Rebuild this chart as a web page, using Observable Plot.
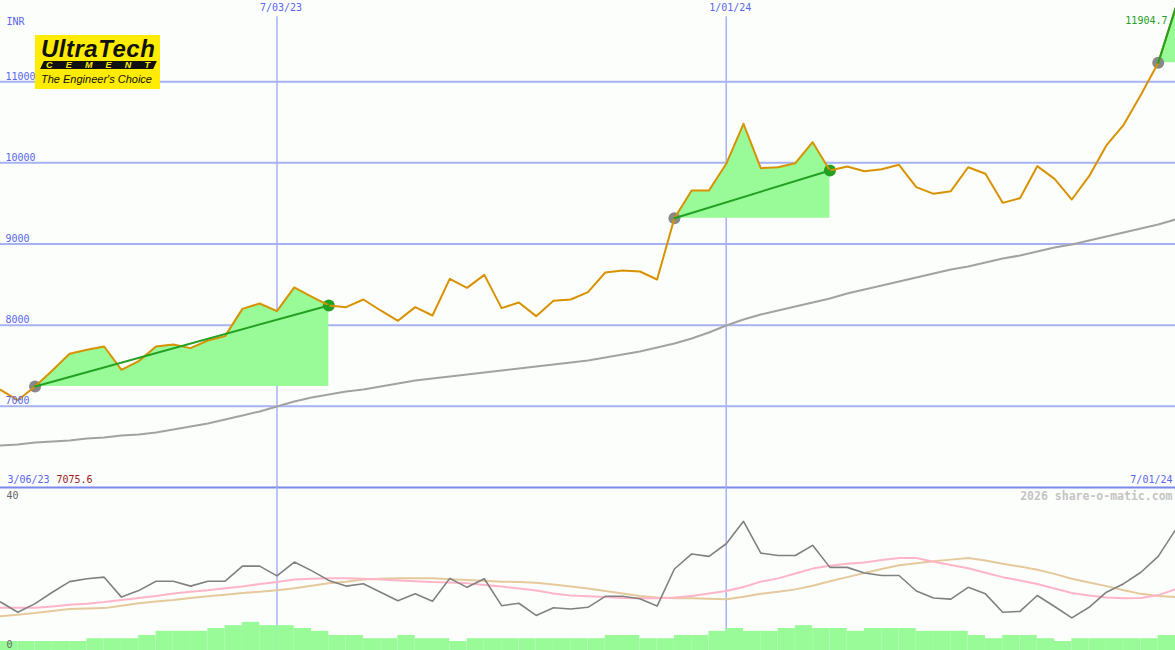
<!DOCTYPE html>
<html>
<head>
<meta charset="utf-8">
<script src="https://cdn.jsdelivr.net/npm/d3@7"></script>
<script src="https://cdn.jsdelivr.net/npm/@observablehq/plot@0.6"></script>
<style>
  html, body { margin: 0; padding: 0; background: #fcfefc; }
  #wrap { position: relative; width: 1175px; height: 650px; background: #fcfefc; overflow: hidden; }
  #upper, #lower { position: absolute; left: 0; }
  #upper { top: 0; }
  #lower { top: 487px; }
  #logo { position: absolute; left: 35px; top: 35px; width: 125px; height: 54px; background: #ffec00; overflow: hidden; }
  #logo .brand { position: absolute; left: 6px; top: 2px; font: italic 900 24px "Liberation Sans", Arial, sans-serif; letter-spacing: 0.5px; line-height: 1; color: #111; white-space: nowrap; }
  #logo .band { position: absolute; left: 7px; top: 26px; width: 113px; height: 8px; background: #111; transform: skewX(-25deg); }
  #logo .cement { position: absolute; left: 11px; top: 26px; width: 104px; height: 8px; display: flex; justify-content: space-between; font: italic 900 9px "Liberation Sans", Arial, sans-serif; line-height: 8px; color: #ffec00; }
  #logo .tag { position: absolute; left: 6px; top: 38.7px; font: italic 11px "Liberation Sans", Arial, sans-serif; line-height: 1; color: #111; white-space: nowrap; }
</style>
</head>
<body>
<div id="wrap">
  <div id="upper"></div>
  <div id="lower"></div>
  <div id="logo">
    <div class="brand">UltraTech</div>
    <div class="band"></div>
    <div class="cement"><span>C</span><span>E</span><span>M</span><span>E</span><span>N</span><span>T</span></div>
    <div class="tag">The Engineer's Choice</div>
  </div>
</div>
<script>
// ---------- data ----------
const startWeek = Date.UTC(2023, 2, 13);   // first weekly point (Mon 13 Mar 2023)
const weekCount = 69;                       // through 1 Jul 2024
const dates = d3.range(weekCount).map(i => new Date(startWeek + i * 7 * 864e5));

// weekly close (INR)
const price = [7204, 7076, 7245, 7442, 7647, 7696, 7737, 7450, 7557, 7737,
  7762, 7717, 7811, 7865, 8201, 8267, 8172, 8465, 8353, 8243,
  8222, 8316, 8181, 8054, 8222, 8119, 8571, 8460, 8620, 8210,
  8279, 8111, 8300, 8316, 8407, 8649, 8674, 8661, 8563, 9318,
  9659, 9659, 9988, 10481, 9934, 9946, 9996, 10254, 9906, 9955,
  9897, 9922, 9976, 9700, 9618, 9651, 9946, 9865, 9507, 9564,
  9959, 9803, 9548, 9836, 10214, 10469, 10838, 11232, 11904.7];

// long moving average (grey)
const movingAvg = [6518, 6530, 6555, 6567, 6579, 6604, 6616, 6641, 6653, 6678,
  6715, 6752, 6789, 6838, 6887, 6937, 6998, 7060, 7109, 7146,
  7183, 7208, 7244, 7281, 7318, 7343, 7368, 7392, 7417, 7442,
  7466, 7491, 7516, 7540, 7565, 7602, 7639, 7676, 7725, 7774,
  7836, 7910, 7996, 8070, 8132, 8181, 8230, 8279, 8329, 8390,
  8440, 8489, 8538, 8587, 8637, 8686, 8723, 8772, 8821, 8858,
  8908, 8957, 8994, 9043, 9092, 9142, 9191, 9240, 9302];

// lower panel indicator (dark grey) and its two averages (pink, tan)
const indicator = [11.9, 9.4, 11.5, 14.3, 16.9, 17.6, 18.0, 13.1, 14.7, 17.0,
  17.0, 15.8, 17.0, 17.0, 20.7, 20.7, 18.3, 21.7, 19.6, 17.2,
  15.8, 16.4, 14.3, 12.2, 13.9, 12.1, 17.7, 15.5, 17.6, 11.0,
  11.6, 8.6, 10.5, 10.2, 10.6, 13.3, 13.3, 12.7, 10.9, 20.0,
  23.7, 23.1, 26.2, 31.7, 23.9, 23.3, 23.3, 25.8, 20.4, 20.4,
  19.0, 18.4, 18.4, 14.6, 12.9, 12.6, 15.5, 13.9, 9.4, 9.6,
  13.5, 10.8, 8.0, 10.6, 14.3, 16.4, 19.2, 23.1, 29.6];

const avgPink = [10.5, 10.5, 10.5, 10.8, 11.2, 11.5, 11.9, 12.4, 12.9, 13.4,
  14.0, 14.4, 14.8, 15.3, 15.7, 16.3, 16.8, 17.4, 17.6, 17.7,
  17.7, 17.6, 17.4, 17.2, 17.0, 16.8, 16.7, 16.5, 16.1, 15.7,
  15.2, 14.7, 14.0, 13.5, 13.3, 13.1, 12.9, 12.8, 12.8, 13.0,
  13.4, 14.0, 14.6, 15.6, 16.9, 17.7, 18.9, 20.1, 20.8, 21.3,
  21.6, 22.2, 22.7, 22.7, 21.8, 21.0, 20.2, 19.1, 18.0, 17.2,
  16.3, 15.2, 14.1, 13.5, 13.0, 12.8, 12.9, 13.6, 15.0];

const avgTan = [8.4, 8.8, 9.2, 9.7, 10.2, 10.3, 10.4, 11.0, 11.6, 12.0,
  12.4, 12.9, 13.3, 13.7, 14.1, 14.4, 14.8, 15.3, 15.9, 16.5,
  16.9, 17.4, 17.6, 17.7, 17.7, 17.7, 17.5, 17.3, 17.1, 16.9,
  16.8, 16.6, 16.2, 15.7, 15.2, 14.6, 14.0, 13.4, 13.0, 12.8,
  12.8, 12.7, 12.6, 13.2, 13.9, 14.4, 15.0, 15.9, 17.0, 18.0,
  19.0, 20.0, 20.9, 21.4, 21.9, 22.3, 22.7, 22.1, 21.3, 20.6,
  19.8, 18.8, 17.6, 16.7, 15.8, 14.8, 13.9, 13.4, 13.1];

// weekly volume blocks (lower panel units), one per week interval
const volume = [2.2, 2.2, 2.2, 2.2, 2.2, 2.9, 2.9, 2.9, 3.7, 4.7,
  4.7, 4.7, 5.4, 6.1, 6.9, 6.1, 6.1, 5.4, 4.7, 3.7,
  3.7, 2.9, 2.9, 3.7, 2.9, 2.9, 2.2, 2.9, 2.9, 2.9,
  2.9, 2.9, 2.9, 2.9, 2.9, 3.7, 3.7, 2.9, 2.9, 3.7,
  3.7, 4.7, 5.4, 4.7, 4.7, 5.4, 6.1, 5.4, 5.4, 4.7,
  5.4, 5.4, 5.4, 4.7, 4.7, 4.7, 3.7, 2.9, 3.7, 3.7,
  2.9, 2.2, 2.9, 2.9, 2.9, 2.9, 2.9, 3.7];

// rising-trend highlights: [start week index, end week index]
const trendStarts = [2, 39, 67];
const trendEnds = [19, 48, 68];
const trendEndDot = [true, true, false];

// axis labels
const yTicks = [7000, 8000, 9000, 10000, 11000];
const gridDates = [new Date(Date.UTC(2023, 6, 3)), new Date(Date.UTC(2024, 0, 1))];
const gridDateLabels = ["7/03/23", "1/01/24"];
const firstDateLabel = "3/06/23";
const firstValueLabel = "7075.6";
const lastDateLabel = "7/01/24";
const lastValueLabel = "11904.7";
const currencyLabel = "INR";
const lowerTopTick = 40;
const lowerBottomTick = 0;
const creditLabel = "2026 share-o-matic.com";

// ---------- build ----------
const rows = dates.map((d, i) => ({date: d, price: price[i], ma: movingAvg[i],
  ind: indicator[i], pink: avgPink[i], tan: avgTan[i]}));
const volRows = volume.map((v, i) => ({d1: dates[i], d2: dates[i + 1], v}));

const W = 1175;
const FONT = "DejaVu Sans Mono, Liberation Mono, monospace";
const GRID = "#a6b2f2";
const DIV = "#7b88ee";
const LABEL = "#5a66ee";
const ORANGE = "#d89200";
const FILL = "#98fb98";
const GREEN = "#22a022";
const xOpt = {type: "utc", domain: [dates[0], dates[dates.length - 1]], range: [0, W], axis: null};

const areas = trendStarts.map((s, j) => Plot.areaY(rows.slice(s, trendEnds[j] + 1),
  {x: "date", y1: price[s], y2: "price", fill: FILL, curve: "linear"}));
const greenLines = trendStarts.map((s, j) => Plot.line([rows[s], rows[trendEnds[j]]],
  {x: "date", y: "price", stroke: GREEN, strokeWidth: 2}));
const startDots = trendStarts.map(s => rows[s]);
const endDots = trendEnds.filter((e, j) => trendEndDot[j]).map(e => rows[e]);

const upper = Plot.plot({
  width: W, height: 490, margin: 0,
  x: xOpt,
  y: {domain: [6000, 12000], range: [487, 0], axis: null},
  style: {background: "transparent", fontFamily: FONT, overflow: "visible"},
  marks: [
    Plot.ruleY(yTicks, {stroke: GRID, strokeWidth: 2}),
    Plot.ruleX(gridDates, {y1: 6000, y2: 11800, stroke: GRID, strokeWidth: 1.5}),
    Plot.ruleY([6000], {stroke: DIV, strokeWidth: 2}),
    Plot.line(rows, {x: "date", y: "ma", stroke: "#a2a2a2", strokeWidth: 2}),
    ...areas,
    Plot.dot(startDots, {x: "date", y: "price", r: 6, fill: "#888888", stroke: "none"}),
    Plot.dot(endDots, {x: "date", y: "price", r: 6, fill: GREEN, stroke: "none"}),
    Plot.line(rows, {x: "date", y: "price", stroke: ORANGE, strokeWidth: 2}),
    ...greenLines,
    Plot.text(yTicks, {x: dates[0], y: d => d, text: d => String(d), dx: 5, dy: -2,
      textAnchor: "start", lineAnchor: "bottom", fill: LABEL, fontSize: 10, fontFamily: FONT}),
    Plot.text([currencyLabel], {x: dates[0], y: 12000, text: d => d, dx: 6, dy: 17,
      textAnchor: "start", lineAnchor: "top", fill: LABEL, fontSize: 10, fontFamily: FONT}),
    Plot.text(gridDates, {x: d => d, y: 12000, text: (d, i) => gridDateLabels[i], dx: 4, dy: 3,
      textAnchor: "middle", lineAnchor: "top", fill: LABEL, fontSize: 10, fontFamily: FONT}),
    Plot.text([firstDateLabel], {x: dates[0], y: 6050, text: d => d, dx: 7,
      textAnchor: "start", lineAnchor: "bottom", fill: LABEL, fontSize: 10, fontFamily: FONT}),
    Plot.text([firstValueLabel], {x: dates[0], y: 6050, text: d => d, dx: 56,
      textAnchor: "start", lineAnchor: "bottom", fill: "#a01c1c", fontSize: 10, fontFamily: FONT}),
    Plot.text([lastDateLabel], {x: dates[dates.length - 1], y: 6050, text: d => d, dx: -3,
      textAnchor: "end", lineAnchor: "bottom", fill: LABEL, fontSize: 10, fontFamily: FONT}),
    Plot.text([lastValueLabel], {x: dates[dates.length - 1], y: price[price.length - 1], text: d => d,
      dx: -8, dy: 9, textAnchor: "end", lineAnchor: "top", fill: GREEN, fontSize: 10, fontFamily: FONT})
  ]
});
document.getElementById("upper").appendChild(upper);

const lower = Plot.plot({
  width: W, height: 163, margin: 0,
  x: xOpt,
  y: {domain: [0, 40], range: [163, 0], axis: null},
  style: {background: "transparent", fontFamily: FONT, overflow: "visible"},
  marks: [
    Plot.ruleX(gridDates, {stroke: GRID, strokeWidth: 1.5}),
    Plot.rectY(volRows, {x1: "d1", x2: "d2", y: "v", fill: FILL, inset: 0}),
    Plot.line(rows, {x: "date", y: "tan", stroke: "#e4c99c", strokeWidth: 2}),
    Plot.line(rows, {x: "date", y: "pink", stroke: "#ffb4c8", strokeWidth: 2}),
    Plot.line(rows, {x: "date", y: "ind", stroke: "#808080", strokeWidth: 1.6}),
    Plot.text([lowerTopTick], {x: dates[0], y: d => d, text: d => String(d), dx: 6, dy: 4,
      textAnchor: "start", lineAnchor: "top", fill: "#666666", fontSize: 10, fontFamily: FONT}),
    Plot.text([lowerBottomTick], {x: dates[0], y: d => d, text: d => String(d), dx: 6, dy: -3,
      textAnchor: "start", lineAnchor: "bottom", fill: "#666666", fontSize: 10, fontFamily: FONT}),
    Plot.text([creditLabel], {x: dates[dates.length - 1], y: 40, text: d => d, dx: -3, dy: 4,
      textAnchor: "end", lineAnchor: "top", fill: "#c4c4c4", fontSize: 11.5, fontWeight: "bold", fontFamily: FONT})
  ]
});
document.getElementById("lower").appendChild(lower);
</script>
</body>
</html>
